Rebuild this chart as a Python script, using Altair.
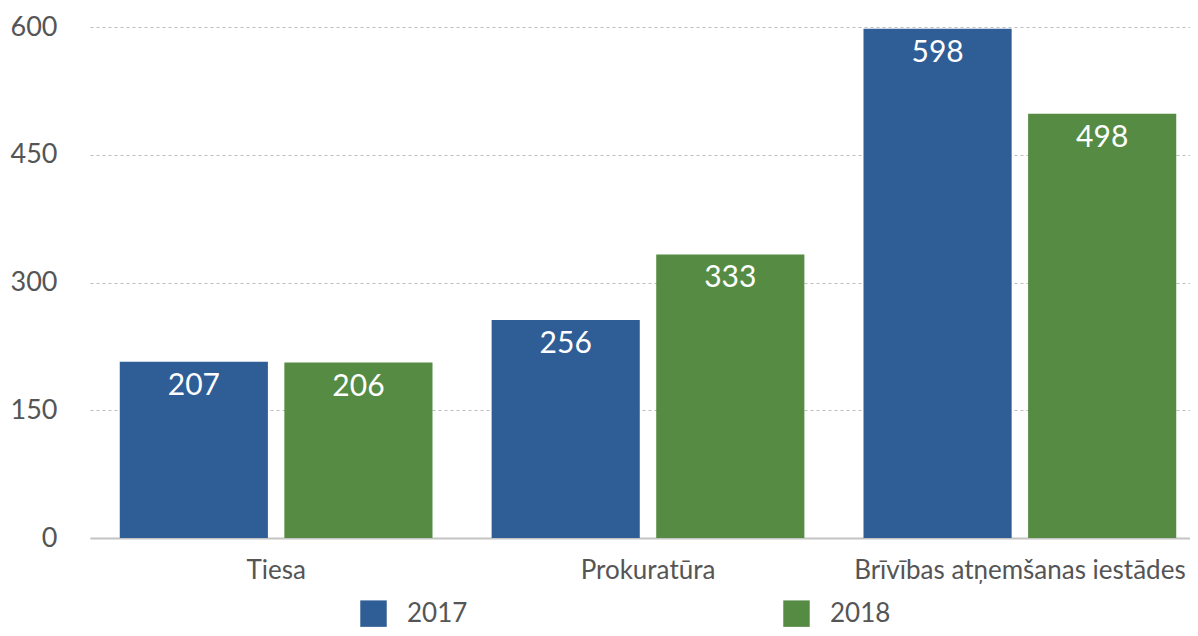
import altair as alt
import pandas as pd

categories = ["Tiesa", "Prokuratūra", "Brīvības atņemšanas iestādes"]
years = ["2017", "2018"]
values_2017 = [207, 256, 598]
values_2018 = [206, 333, 498]
y_ticks = [0, 150, 300, 450, 600]
colors = ["#2F5D95", "#558B43"]

rows = []
for c, v in zip(categories, values_2017):
    rows.append({"cat": c, "year": "2017", "value": v})
for c, v in zip(categories, values_2018):
    rows.append({"cat": c, "year": "2018", "value": v})
df = pd.DataFrame(rows)

FONT = "Lato"

base = alt.Chart(df).encode(
    x=alt.X("cat:N", sort=categories, title=None,
            scale=alt.Scale(paddingInner=0.159, paddingOuter=0.08, range=[0, 1116]),
            axis=alt.Axis(labelAngle=0, labelFontSize=26, labelColor="#555555",
                          labelFont=FONT, labelPadding=19, ticks=False,
                          domainColor="#c4c4c4", domainWidth=2, grid=False,
                          labelLimit=400)),
    xOffset=alt.XOffset("year:N", sort=years, scale=alt.Scale(paddingInner=0.1)),
    y=alt.Y("value:Q", title=None,
            scale=alt.Scale(domain=[0, 600], nice=False),
            axis=alt.Axis(values=y_ticks, labelFontSize=27, labelColor="#555555",
                          labelFont=FONT, labelPadding=33, ticks=False, domain=False,
                          gridColor="#bdbdbd", gridDash=[3, 3], gridWidth=1)),
)

bars = base.mark_bar().encode(
    color=alt.Color("year:N", sort=years,
                    scale=alt.Scale(domain=years, range=colors),
                    legend=alt.Legend(title=None, orient="none", legendX=270, legendY=573,
                                      direction="horizontal", symbolType="square",
                                      symbolSize=700, symbolStrokeWidth=0,
                                      labelFontSize=26, labelFont=FONT, labelColor="#555555",
                                      labelOffset=20, columnPadding=315, padding=0))
)

labels = base.mark_text(baseline="middle", align="center", dy=24, color="white",
                        fontSize=30, font=FONT).encode(text="value:Q")

chart = (bars + labels).properties(
    width=1100, height=511,
    autosize=alt.AutoSizeParams(type="none"),
    padding={"left": 82, "top": 19, "right": 0, "bottom": 90},
).configure_view(stroke=None)

chart.save("out.html", embed_options={"renderer": "svg", "actions": False})
